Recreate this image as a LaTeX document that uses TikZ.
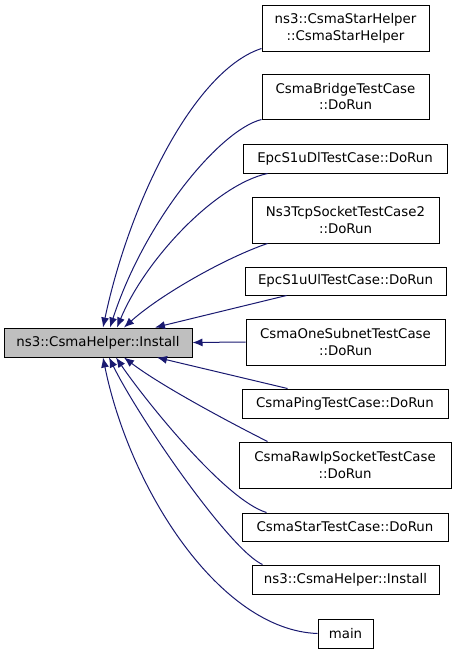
\documentclass[tikz,border=0pt]{standalone}
\usepackage{fontspec}
\setmainfont{DejaVu Sans}
\usetikzlibrary{arrows.meta}
\definecolor{midnightblue}{RGB}{25,25,112}
\tikzset{x=0.75pt, y=-0.75pt,
every node/.style={ % Sets the properties for each function box
draw=black,
line width=0.75pt,
align=center,
inner sep=2pt,
font=\fontsize{10}{12.5}\selectfont},
caller/.style={fill=white}, % functions that call Install
callee/.style={fill=black!25}, % the documented function
call/.style={ % Sets the properties for each call edge
draw=midnightblue,
line width=0.75pt,
-{Latex[length=7.5pt,width=6pt]}}}

\begin{document}
\begin{tikzpicture}
\useasboundingbox (0,0) rectangle (456,653);
\node[callee, minimum width=141pt, minimum height=21.75pt] (install) at (98,342.5) {ns3::CsmaHelper::Install};
\node[caller, minimum width=125.25pt, minimum height=34.5pt] (starhelper) at (345.5,28) {ns3::CsmaStarHelper\\::CsmaStarHelper};
\node[caller, minimum width=125.25pt, minimum height=33.75pt] (bridge) at (345.5,96.5) {CsmaBridgeTestCase\\::DoRun};
\node[caller, minimum width=153pt, minimum height=21.75pt] (epcdl) at (345,158.5) {EpcS1uDlTestCase::DoRun};
\node[caller, minimum width=140.25pt, minimum height=34.5pt] (tcpsocket) at (345.5,220) {Ns3TcpSocketTestCase2\\::DoRun};
\node[caller, minimum width=150.75pt, minimum height=21pt] (epcul) at (345.5,281) {EpcS1uUlTestCase::DoRun};
\node[caller, minimum width=149.25pt, minimum height=34.5pt] (onesubnet) at (345.5,342) {CsmaOneSubnetTestCase\\::DoRun};
\node[caller, minimum width=154.5pt, minimum height=21.75pt] (ping) at (345,403.5) {CsmaPingTestCase::DoRun};
\node[caller, minimum width=159pt, minimum height=34.5pt] (rawip) at (345,465) {CsmaRawIpSocketTestCase\\::DoRun};
\node[caller, minimum width=154.5pt, minimum height=21pt] (startest) at (345,527) {CsmaStarTestCase::DoRun};
\node[caller, minimum width=140.25pt, minimum height=21.75pt] (install2) at (345.5,579.5) {ns3::CsmaHelper::Install};
\node[caller, minimum width=41.25pt, minimum height=21.75pt] (main) at (345.5,633.5) {main};
% calls from above
\draw[call] ([yshift=2.25pt]starhelper.south west) .. controls (195,70) and (130,200) .. ([xshift=3.75pt]install.north);
\draw[call] (bridge.south west) .. controls (220,130) and (145,220) .. ([xshift=9pt]install.north);
\draw[call] ([xshift=18.75pt]epcdl.south west) .. controls (215,185) and (145,260) .. ([xshift=14.25pt]install.north);
\draw[call] ([xshift=12pt]tcpsocket.south west) .. controls (225,258) and (160,295) .. ([xshift=19.5pt]install.north);
\draw[call] ([xshift=31.5pt]epcul.south west) -- ([xshift=42.75pt]install.north);
\draw[call] (onesubnet.west) -- (install.east);
% calls from below
\draw[call] ([xshift=34.5pt]ping.north west) -- ([xshift=44.25pt]install.south);
\draw[call] ([xshift=21.75pt]rawip.north west) .. controls (225,420) and (160,385) .. ([xshift=19.5pt]install.south);
\draw[call] ([xshift=18.75pt]startest.north west) .. controls (225,500) and (145,400) .. ([xshift=13.5pt]install.south);
\draw[call] ([xshift=8.25pt]install2.north west) .. controls (230,550) and (140,420) .. ([xshift=8.25pt]install.south);
\draw[call] (main.west) .. controls (220,630) and (130,490) .. ([xshift=3.75pt]install.south);
\end{tikzpicture}
\end{document}
